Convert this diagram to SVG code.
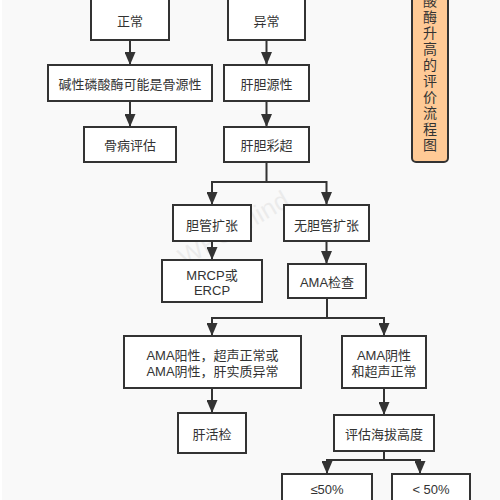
<svg xmlns="http://www.w3.org/2000/svg" width="500" height="500" viewBox="0 0 500 500">
<style>
.box{fill:#fff;stroke:#333;stroke-width:2}
.t{font-family:"Liberation Sans","Noto Sans CJK SC",sans-serif;font-size:13px;fill:#333;text-anchor:middle;dominant-baseline:central}
.title{font-family:"Noto Sans CJK SC","Noto Sans",sans-serif;font-size:14px;fill:#333;writing-mode:tb;letter-spacing:2px}
.c{fill:none;stroke:#333;stroke-width:2}
</style>
<defs>
<marker id="ah" viewBox="0 0 13 11" refX="13" refY="5.5" markerWidth="13" markerHeight="11" markerUnits="userSpaceOnUse" orient="auto">
<path d="M0,0 L13,5.5 L0,11 z" fill="#333"/>
</marker>
</defs>
<rect x="0" y="0" width="500" height="500" fill="#f9f9f9"/>
<rect x="0" y="0" width="2" height="500" fill="#fff"/>
<text x="238" y="236" transform="rotate(-30 238 236)" style="font-family:'Liberation Sans',sans-serif;font-size:26px;fill:#000;opacity:0.05;text-anchor:middle">WPS Mind</text>
<g id="connectors">
<path class="c" d="M130,40 V65" marker-end="url(#ah)"/>
<path class="c" d="M130,101 V127" marker-end="url(#ah)"/>
<path class="c" d="M266.5,40 V65" marker-end="url(#ah)"/>
<path class="c" d="M266.5,101 V127" marker-end="url(#ah)"/>
<path class="c" d="M266.5,162 V182 H212 V205" marker-end="url(#ah)"/>
<path class="c" d="M266.5,182 H326.5 V205" marker-end="url(#ah)"/>
<path class="c" d="M212,241 V260" marker-end="url(#ah)"/>
<path class="c" d="M326.5,241 V264" marker-end="url(#ah)"/>
<path class="c" d="M327,298 V318 H212 V336" marker-end="url(#ah)"/>
<path class="c" d="M327,318 H384 V336" marker-end="url(#ah)"/>
<path class="c" d="M212,388 V413" marker-end="url(#ah)"/>
<path class="c" d="M384,388 V415" marker-end="url(#ah)"/>
<path class="c" d="M384,451 V460 H327 V474" marker-end="url(#ah)"/>
<path class="c" d="M384,460 H420 V474" marker-end="url(#ah)"/>
</g>
<g id="n1"><rect class="box" x="91" y="-5" width="78" height="45"/><text class="t" x="130" y="21">正常</text></g>
<g id="n2"><rect class="box" x="48" y="65" width="164" height="36"/><text class="t" x="130" y="84">碱性磷酸酶可能是骨源性</text></g>
<g id="n3"><rect class="box" x="84" y="127" width="92" height="35"/><text class="t" x="130" y="145.5">骨病评估</text></g>
<g id="n4"><rect class="box" x="228" y="-5" width="77" height="45"/><text class="t" x="266.5" y="21">异常</text></g>
<g id="n5"><rect class="box" x="224" y="65" width="85" height="36"/><text class="t" x="266.5" y="84">肝胆源性</text></g>
<g id="n6"><rect class="box" x="224" y="127" width="85" height="35"/><text class="t" x="266.5" y="145">肝胆彩超</text></g>
<g id="n7"><rect class="box" x="173" y="205" width="78" height="36"/><text class="t" x="212" y="225">胆管扩张</text></g>
<g id="n8"><rect class="box" x="284" y="205" width="85" height="36"/><text class="t" x="326.5" y="225">无胆管扩张</text></g>
<g id="n9"><rect class="box" x="162" y="260" width="100" height="42"/><text class="t" x="212" y="274.5"><tspan x="212" y="274.5">MRCP或</tspan><tspan x="212" y="290">ERCP</tspan></text></g>
<g id="n10"><rect class="box" x="288" y="264" width="78" height="34"/><text class="t" x="327" y="282">AMA检查</text></g>
<g id="n11"><rect class="box" x="124" y="336" width="177" height="52"/><text class="t" x="212.5" y="355"><tspan x="212.5" y="355">AMA阳性，超声正常或</tspan><tspan x="212.5" y="371">AMA阴性，肝实质异常</tspan></text></g>
<g id="n12"><rect class="box" x="342" y="336" width="84" height="52"/><text class="t" x="384" y="355"><tspan x="384" y="355">AMA阴性</tspan><tspan x="384" y="371">和超声正常</tspan></text></g>
<g id="n13"><rect class="box" x="178" y="413" width="68" height="40"/><text class="t" x="212" y="434">肝活检</text></g>
<g id="n14"><rect class="box" x="334" y="415" width="100" height="36"/><text class="t" x="384" y="434">评估海拔高度</text></g>
<g id="n15"><rect class="box" x="282" y="474" width="90" height="40"/><text class="t" x="327" y="489">≤50%</text></g>
<g id="n16"><rect class="box" x="392" y="474" width="78" height="40"/><text class="t" x="431" y="489">&lt; 50%</text></g>
<g id="title"><rect x="412" y="-10" width="36" height="172" rx="4" fill="#ffca96" stroke="#333" stroke-width="2"/>
<text class="title" x="430" y="-6">酸酶升高的评价流程图</text>
</g>
</svg>
